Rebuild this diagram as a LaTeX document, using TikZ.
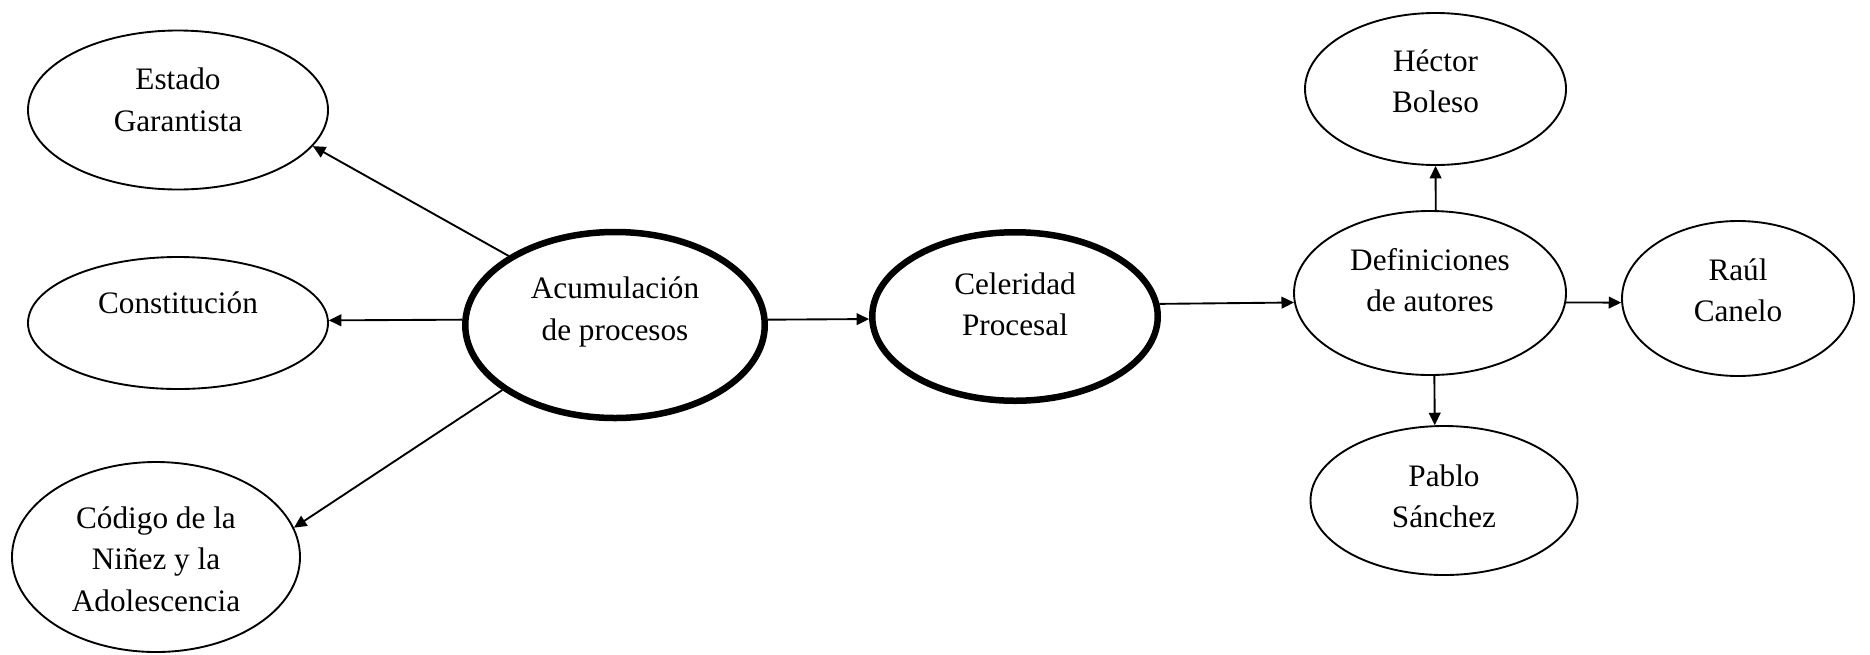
\documentclass[tikz,border=0pt]{standalone}
\usepackage{fontspec}
\setmainfont{Liberation Serif}
\usetikzlibrary{shapes.geometric,arrows.meta}

\begin{document}
\begin{tikzpicture}[
    x=0.4pt, y=-0.4pt,
    idea/.style={draw, ellipse, inner sep=0pt, line width=0.75pt, align=center,
        font=\fontsize{12.5}{16.6}\selectfont},
    central/.style={idea, line width=2.6pt},
    txt/.style 2 args={text height=#1, text depth=#2},
    arrow/.style={-{Triangle[length=5pt,width=4.7pt]}, line width=0.75pt}
]
    \useasboundingbox (0,0) rectangle (1870,654);

    % Left branch
    \node[idea, minimum width=120pt, minimum height=63.6pt, txt={16.8pt}{0pt}] (estado) at (178,110) {Estado\\Garantista};
    \node[idea, minimum width=120pt, minimum height=52.8pt, txt={0pt}{8pt}] (const) at (178,323) {Constitución};
    \node[idea, minimum width=115.2pt, minimum height=76pt, txt={43.2pt}{0pt}] (codigo) at (156,557) {Código de la\\Niñez y la\\Adolescencia};

    % Main concepts
    \node[central, minimum width=119.8pt, minimum height=74.4pt, txt={12pt}{0pt}] (acum) at (615,325) {Acumulación\\de procesos};
    \node[central, minimum width=114.2pt, minimum height=67.4pt, txt={15.4pt}{0pt}] (celer) at (1015,316.5) {Celeridad\\Procesal};

    % Authors
    \node[idea, minimum width=108.8pt, minimum height=65.6pt, txt={15pt}{0pt}] (defin) at (1430,293) {Definiciones\\de autores};
    \node[idea, minimum width=104.4pt, minimum height=60.8pt, txt={18.8pt}{0pt}] (hector) at (1435.5,89) {Héctor\\Boleso};
    \node[idea, minimum width=106.8pt, minimum height=59.6pt, txt={21.8pt}{0pt}] (pablo) at (1444,500.5) {Pablo\\Sánchez};
    \node[idea, minimum width=92.8pt, minimum height=62pt, txt={18.4pt}{0pt}] (raul) at (1738,298.5) {Raúl\\Canelo};

    % Connections
    \draw[arrow] (acum.147.5) -- (estado.-15);
    \draw[arrow] (acum.178) -- (const.1);
    \draw[arrow] (acum.210.8) -- (codigo.12);
    \draw[arrow] (acum.2) -- (celer.181);
    \draw[arrow] (celer.5.3) -- (defin.184.6);
    \draw[arrow] (defin.86) -- (hector.270);
    \draw[arrow] (defin.273) -- (pablo.97);
    \draw[arrow] (defin.-4.8) -- (raul.182.2);
\end{tikzpicture}
\end{document}
